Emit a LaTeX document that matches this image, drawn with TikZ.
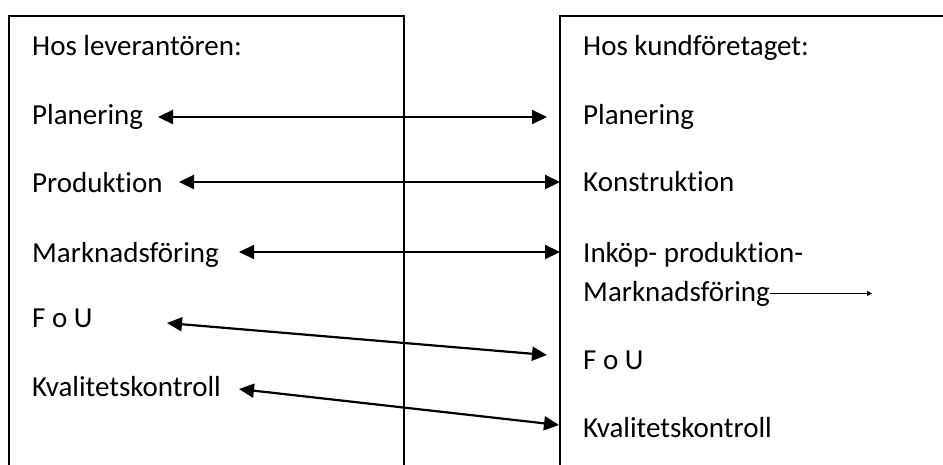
\documentclass[tikz,border=0pt]{standalone}
\usepackage{fontspec}
\setmainfont{Carlito}[Ligatures=NoCommon]
\usetikzlibrary{arrows.meta}

\begin{document}
\begin{tikzpicture}[line cap=round,line join=miter,>={Triangle[length=15pt,width=14pt]},x=1pt,y=-1pt,
    txt/.style={anchor=base west,inner sep=0pt,font=\fontsize{29}{35}\selectfont}]
         \useasboundingbox (0,0) rectangle (943,464);
         \clip (0,0) rectangle (943,464);
         % the two boxes
         \draw[line width=1.2pt,color=black] (9,480) -- (9,16) -- (404,16) -- (404,480);
         \draw[line width=1.2pt,color=black] (560,480) -- (560,16) -- (960,16);

         \node[txt] (lhead) at (32,55) {Hos leverantören:};
         \node[txt] (lplan) at (32,124) {Planering};
         \node[txt] (lprod) at (32,192) {Produktion};
         \node[txt] (lmark) at (32,262) {Marknadsföring};
         \node[txt] (lfou) at (32,327) {F o U};
         \node[txt] (lkval) at (32,396) {Kvalitetskontroll};

         \node[txt] (rhead) at (583,55) {Hos kundföretaget:};
         \node[txt] (rplan) at (583,124) {Planering};
         \node[txt] (rkons) at (583,191) {Konstruktion};
         \node[txt] (rinko) at (583,262) {Inköp- produktion-};
         \node[txt] (rmark) at (583,301) {Marknadsföring};
         \node[txt] (rfou) at (583,369) {F o U};
         \node[txt] (rkval) at (583,437) {Kvalitetskontroll};

         % arrow ends
         \coordinate (a1) at (158,117); \coordinate (b1) at (547,117);
         \coordinate (a2) at (179,182); \coordinate (b2) at (560,182);
         \coordinate (a3) at (239,252); \coordinate (b3) at (560,252);
         \coordinate (a4) at (167,323); \coordinate (b4) at (547,355);
         \coordinate (a5) at (239,389); \coordinate (b5) at (559,425);
         \coordinate (mend) at (872,0);

         \draw[<->,line width=2.2pt,color=black] (a1) -- (b1);
         \draw[<->,line width=2.2pt,color=black] (a2) -- (b2);
         \draw[<->,line width=2.2pt,color=black] (a3) -- (b3);
         \draw[<->,line width=2.2pt,color=black] (a4) -- (b4);
         \draw[<->,line width=2.2pt,color=black] (a5) -- (b5);
         \draw[-{Triangle[length=5pt,width=5pt]},line width=1pt,color=black] (rmark.east) -- (rmark.east -| mend);
       \end{tikzpicture}
\end{document}
